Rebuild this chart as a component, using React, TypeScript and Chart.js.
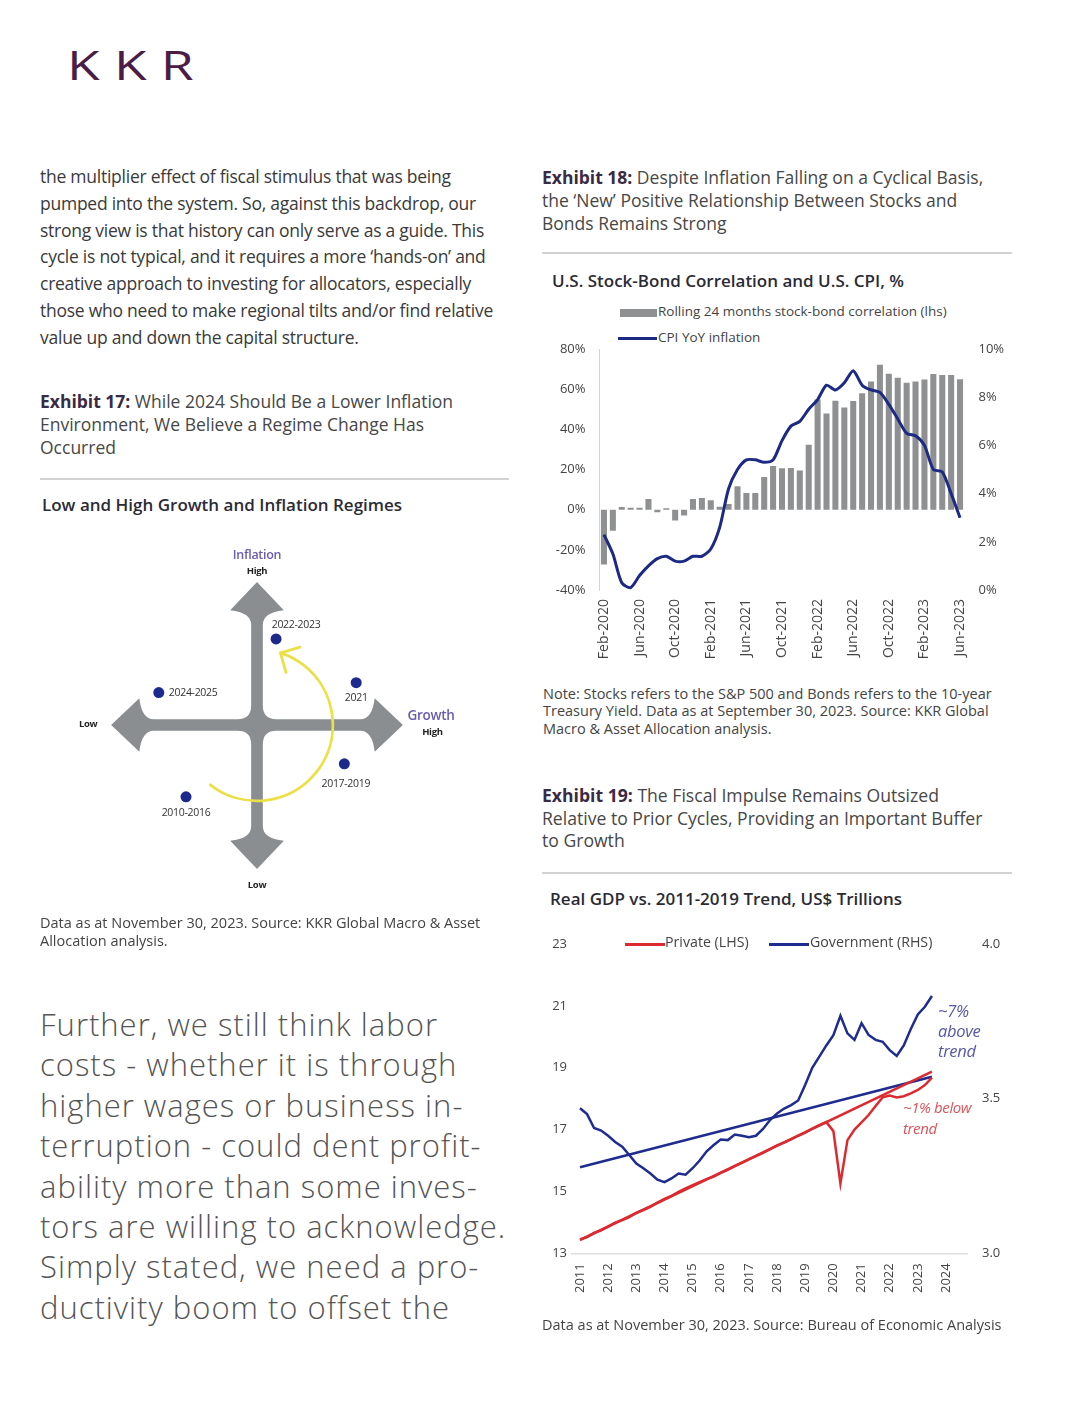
import React, { useEffect, useRef } from "react";
import { Chart, registerables } from "chart.js";

Chart.register(...registerables);

const FONT = "'Open Sans', 'DejaVu Sans', sans-serif";

// ---------- Exhibit 17: regimes ----------
const REGIMES = ["2022-2023", "2021", "2024-2025", "2017-2019", "2010-2016"];
const REGIME_GROWTH = [0.98, 5.1, -5.05, 4.49, -3.65];
const REGIME_INFLATION = [4.43, 2.18, 1.67, -2.0, -3.7];

// ---------- Exhibit 18: stock-bond correlation & CPI ----------
const MONTHS = [
  "Feb-2020", "Mar-2020", "Apr-2020", "May-2020", "Jun-2020", "Jul-2020", "Aug-2020", "Sep-2020", "Oct-2020", "Nov-2020", "Dec-2020",
  "Jan-2021", "Feb-2021", "Mar-2021", "Apr-2021", "May-2021", "Jun-2021", "Jul-2021", "Aug-2021", "Sep-2021", "Oct-2021", "Nov-2021", "Dec-2021",
  "Jan-2022", "Feb-2022", "Mar-2022", "Apr-2022", "May-2022", "Jun-2022", "Jul-2022", "Aug-2022", "Sep-2022", "Oct-2022", "Nov-2022", "Dec-2022",
  "Jan-2023", "Feb-2023", "Mar-2023", "Apr-2023", "May-2023", "Jun-2023",
];
const MONTH_TICKS = ["Feb-2020", "Jun-2020", "Oct-2020", "Feb-2021", "Jun-2021", "Oct-2021", "Feb-2022", "Jun-2022", "Oct-2022", "Feb-2023", "Jun-2023"];
const CORRELATION = [
  -27.3, -10.5, 1.3, 0.9, 0.9, 5.3, -1.3, 0.7, -5.4, -2.9, 5.3,
  5.8, 4.7, 1.5, 2.8, 11.7, 8.3, 8.3, 16.3, 21.8, 20.6, 20.7, 19.5,
  32.3, 54.8, 47.9, 54.2, 50.9, 54.1, 58.0, 63.8, 72.1, 67.7, 65.7, 63.2,
  63.8, 64.8, 67.5, 67.1, 67.0, 65.0,
];
const CPI = [
  2.3, 1.5, 0.3, 0.1, 0.6, 1.0, 1.3, 1.4, 1.2, 1.2, 1.4,
  1.4, 1.7, 2.6, 4.2, 5.0, 5.4, 5.4, 5.3, 5.4, 6.2, 6.8, 7.0,
  7.5, 7.9, 8.5, 8.3, 8.6, 9.1, 8.5, 8.3, 8.2, 7.7, 7.1, 6.5,
  6.4, 6.0, 5.0, 4.9, 4.0, 3.0,
];
const CORR_TICKS = [-40, -20, 0, 20, 40, 60, 80];
const CPI_TICKS = [0, 2, 4, 6, 8, 10];

// ---------- Exhibit 19: real GDP vs trend ----------
const QUARTERS = [
  "2011Q1", "2011Q2", "2011Q3", "2011Q4", "2012Q1", "2012Q2", "2012Q3", "2012Q4",
  "2013Q1", "2013Q2", "2013Q3", "2013Q4", "2014Q1", "2014Q2", "2014Q3", "2014Q4",
  "2015Q1", "2015Q2", "2015Q3", "2015Q4", "2016Q1", "2016Q2", "2016Q3", "2016Q4",
  "2017Q1", "2017Q2", "2017Q3", "2017Q4", "2018Q1", "2018Q2", "2018Q3", "2018Q4",
  "2019Q1", "2019Q2", "2019Q3", "2019Q4", "2020Q1", "2020Q2", "2020Q3", "2020Q4",
  "2021Q1", "2021Q2", "2021Q3", "2021Q4", "2022Q1", "2022Q2", "2022Q3", "2022Q4",
  "2023Q1", "2023Q2", "2023Q3",
];
const PRIVATE = [
  13.45, 13.52, 13.66, 13.74, 13.86, 13.99, 14.07, 14.17,
  14.31, 14.40, 14.50, 14.64, 14.76, 14.86, 14.99, 15.10,
  15.20, 15.30, 15.40, 15.48, 15.60, 15.70, 15.82, 15.92,
  16.04, 16.14, 16.25, 16.37, 16.49, 16.58, 16.68, 16.80,
  16.90, 17.03, 17.14, 17.24, 16.95, 15.26, 16.66, 17.00,
  17.23, 17.47, 17.76, 18.04, 18.10, 18.04, 18.08, 18.17,
  18.28, 18.44, 18.68,
];
const GOVERNMENT = [
  3.469, 3.450, 3.405, 3.397, 3.380, 3.360, 3.345, 3.318,
  3.290, 3.275, 3.258, 3.238, 3.230, 3.242, 3.258, 3.254,
  3.275, 3.300, 3.330, 3.350, 3.368, 3.366, 3.384, 3.380,
  3.375, 3.380, 3.402, 3.431, 3.452, 3.468, 3.479, 3.494,
  3.545, 3.600, 3.636, 3.672, 3.705, 3.768, 3.711, 3.690,
  3.744, 3.706, 3.690, 3.684, 3.657, 3.638, 3.672, 3.725,
  3.772, 3.797, 3.832,
];
const TREND_QUARTERS = ["2011Q1", "2023Q3"];
const PRIVATE_TREND = [13.43, 18.87];
const GOVERNMENT_TREND = [3.278, 3.571];
const YEAR_TICKS = [2011, 2012, 2013, 2014, 2015, 2016, 2017, 2018, 2019, 2020, 2021, 2022, 2023, 2024];
const PRIVATE_TICKS = [13, 15, 17, 19, 21, 23];
const GOVERNMENT_TICKS = [3.0, 3.5, 4.0];

// ---------- styles ----------
const GRAY_BAR = "#8e9092";
const NAVY = "#1c2a84";
const RED = "#dc2b30";
const BLUE = "#1f2c8f";
const AXIS_TEXT = "#444";

// label placement for the regime dots: [dx px, dy px, align]
const REGIME_LABEL_PLACE: [number, number, CanvasTextAlign][] = [
  [20, -14, "center"],
  [0, 15, "center"],
  [10, 0, "left"],
  [1.5, 20, "center"],
  [0, 16, "center"],
];

const quarterToYear = (q: string) => parseInt(q.slice(0, 4), 10) + (parseInt(q.slice(5), 10) - 1) / 4;

const quadrantPlugin = {
  id: "quadrant",
  beforeDatasetsDraw(chart: any) {
    const { ctx, scales } = chart;
    const x = scales.x, y = scales.y;
    const cx = x.getPixelForValue(0), cy = y.getPixelForValue(0);
    const s = x.getPixelForValue(1) - cx;
    const w = 0.3 * s, r = 0.7 * s, hw = 1.38 * s, H = 1.45 * s, D = 2.2 * s;
    const lens = [7.35, 7.5, 7.4, 7.5].map((v) => v * s);
    ctx.save();
    ctx.fillStyle = "#8b8e91";
    ctx.beginPath();
    for (let k = 0; k < 4; k++) {
      const L = lens[k];
      const P = (px: number, py: number): [number, number] => {
        let X = px, Y = py;
        for (let j = 0; j < k; j++) { const t = X; X = -Y; Y = t; }
        return [cx + X, cy + Y];
      };
      const a = P(-w, -(L - D));
      if (k === 0) ctx.moveTo(a[0], a[1]); else ctx.lineTo(a[0], a[1]);
      let c = P(-w, -(L - H - 0.12 * s)), e = P(-hw, -(L - H));
      ctx.quadraticCurveTo(c[0], c[1], e[0], e[1]);
      e = P(0, -L); ctx.lineTo(e[0], e[1]);
      e = P(hw, -(L - H)); ctx.lineTo(e[0], e[1]);
      c = P(w, -(L - H - 0.12 * s)); e = P(w, -(L - D));
      ctx.quadraticCurveTo(c[0], c[1], e[0], e[1]);
      e = P(w, -w - r); ctx.lineTo(e[0], e[1]);
      c = P(w, -w); e = P(w + r, -w);
      ctx.quadraticCurveTo(c[0], c[1], e[0], e[1]);
    }
    ctx.closePath();
    ctx.fill();

    // yellow rotation arrow
    const R = 3.9 * s;
    const a0 = (128 * Math.PI) / 180, a1 = (-72 * Math.PI) / 180;
    ctx.strokeStyle = "#ece047";
    ctx.lineWidth = 2.8;
    ctx.lineCap = "round";
    ctx.beginPath();
    ctx.arc(cx, cy, R, a0, a1, true);
    ctx.stroke();
    const tx = cx + R * Math.cos(a1), ty = cy + R * Math.sin(a1);
    const back = Math.atan2(Math.cos(a1), -Math.sin(a1));
    const bl = 1.05 * s;
    ctx.beginPath();
    ctx.moveTo(tx + bl * Math.cos(back - 0.6), ty + bl * Math.sin(back - 0.6));
    ctx.lineTo(tx, ty);
    ctx.lineTo(tx + bl * Math.cos(back + 0.98), ty + bl * Math.sin(back + 0.98));
    ctx.stroke();
    ctx.restore();
  },
  afterDatasetsDraw(chart: any) {
    const { ctx, scales } = chart;
    const x = scales.x, y = scales.y;
    ctx.save();
    ctx.textBaseline = "middle";
    (ctx as any).letterSpacing = "-0.3px";
    ctx.font = `10.5px ${FONT}`;
    ctx.fillStyle = "#333";
    REGIMES.forEach((lab, i) => {
      const [dx, dy, align] = REGIME_LABEL_PLACE[i];
      ctx.textAlign = align;
      ctx.fillText(lab, x.getPixelForValue(REGIME_GROWTH[i]) + dx, y.getPixelForValue(REGIME_INFLATION[i]) + dy);
    });
    const txt = (t: string, gx: number, gy: number, font: string, color: string) => {
      ctx.font = font;
      ctx.fillStyle = color;
      ctx.textAlign = "center";
      ctx.fillText(t, x.getPixelForValue(gx), y.getPixelForValue(gy));
    };
    (ctx as any).letterSpacing = "-0.3px";
    txt("Inflation", 0, 8.73, `600 12.5px ${FONT}`, "#6a5cae");
    txt("High", 0, 7.93, `700 9.5px ${FONT}`, "#222");
    txt("Low", 0, -8.23, `700 9.5px ${FONT}`, "#222");
    txt("Low", -8.68, 0.05, `700 9.5px ${FONT}`, "#222");
    txt("Growth", 8.95, 0.43, `600 13.5px ${FONT}`, "#6a5cae");
    txt("High", 9.02, -0.4, `700 9.5px ${FONT}`, "#222");
    ctx.restore();
  },
};

type TProps = {
  x: number; y: number; size: number; lh: number; color?: string; weight?: number;
  ls?: number; italic?: boolean; children: React.ReactNode;
};
const T = ({ x, y, size, lh, color = "#3c3c3c", weight = 400, ls = 0, italic = false, children }: TProps) => (
  <div
    style={{
      position: "absolute", left: x, top: y, fontSize: size, lineHeight: `${lh}px`, color,
      fontWeight: weight, letterSpacing: ls, fontStyle: italic ? "italic" : "normal", whiteSpace: "nowrap",
    }}
  >
    {children}
  </div>
);

const Rule = ({ x, y, w }: { x: number; y: number; w: number }) => (
  <div style={{ position: "absolute", left: x, top: y, width: w, height: 2, background: "#d2d2d2" }} />
);

const EX = "#3b2a44";
const noVPad = (s: any) => { s.paddingTop = 0; s.paddingBottom = 0; };

export default function App() {
  const quadRef = useRef<HTMLCanvasElement>(null);
  const corrRef = useRef<HTMLCanvasElement>(null);
  const gdpRef = useRef<HTMLCanvasElement>(null);

  useEffect(() => {
    document.body.style.margin = "0";
    Chart.defaults.font.family = FONT;
    Chart.defaults.color = AXIS_TEXT;

    const quad = new Chart(quadRef.current as HTMLCanvasElement, {
      type: "scatter",
      data: {
        datasets: [
          {
            label: "Regimes",
            data: REGIMES.map((_, i) => ({ x: REGIME_GROWTH[i], y: REGIME_INFLATION[i] })),
            pointRadius: 5.5,
            pointBackgroundColor: "#1b2a8c",
            pointBorderWidth: 0,
          },
        ],
      },
      options: {
        animation: false,
        responsive: false,
        layout: { padding: 0 },
        plugins: { legend: { display: false }, tooltip: { enabled: false } },
        scales: {
          x: { type: "linear", min: -10, max: 10, display: false },
          y: { type: "linear", min: -9.5, max: 9.5, display: false },
        },
      },
      plugins: [quadrantPlugin],
    });

    const corr = new Chart(corrRef.current as HTMLCanvasElement, {
      type: "bar",
      data: {
        labels: MONTHS,
        datasets: [
          {
            type: "line",
            label: "CPI YoY inflation",
            data: CPI,
            yAxisID: "y1",
            borderColor: NAVY,
            borderWidth: 3,
            pointRadius: 0,
            tension: 0.25,
            order: 1,
          } as any,
          {
            type: "bar",
            label: "Rolling 24 months stock-bond correlation (lhs)",
            data: CORRELATION,
            yAxisID: "y",
            backgroundColor: GRAY_BAR,
            barPercentage: 0.68,
            categoryPercentage: 1,
            order: 2,
          },
        ],
      },
      options: {
        animation: false,
        responsive: false,
        layout: { padding: { top: 9, left: 0, right: 0, bottom: 0 } },
        plugins: { legend: { display: false }, tooltip: { enabled: false } },
        scales: {
          x: {
            grid: { display: false, drawTicks: false },
            border: { display: false },
            ticks: {
              autoSkip: false,
              minRotation: 90,
              maxRotation: 90,
              padding: 9,
              color: AXIS_TEXT,
              font: { size: 14 },
              callback: (_v: any, i: number) => (MONTH_TICKS.includes(MONTHS[i]) ? MONTHS[i] : ""),
            },
            afterFit: (s: any) => { s.height = 85; },
          },
          y: {
            position: "left",
            min: -40,
            max: 80,
            grid: { display: false, drawTicks: false },
            border: { display: true, color: "#d4d4d4", width: 1 },
            ticks: { padding: 14, color: AXIS_TEXT, font: { size: 13 }, callback: (v: any) => `${v}%` },
            afterBuildTicks: (s: any) => { s.ticks = CORR_TICKS.map((v) => ({ value: v })); },
            afterFit: (s: any) => { s.width = 59.5; noVPad(s); },
          },
          y1: {
            position: "right",
            min: 0,
            max: 10,
            grid: { display: false, drawTicks: false },
            border: { display: false },
            ticks: { padding: 14, color: AXIS_TEXT, font: { size: 13 }, callback: (v: any) => `${v}%` },
            afterBuildTicks: (s: any) => { s.ticks = CPI_TICKS.map((v) => ({ value: v })); },
            afterFit: (s: any) => { s.width = 55.5; noVPad(s); },
          },
        },
      },
    });

    const trendPts = (vals: number[]) => TREND_QUARTERS.map((q, i) => ({ x: quarterToYear(q), y: vals[i] }));
    const seriesPts = (vals: number[]) => QUARTERS.map((q, i) => ({ x: quarterToYear(q), y: vals[i] }));

    const gdp = new Chart(gdpRef.current as HTMLCanvasElement, {
      type: "line",
      data: {
        datasets: [
          { label: "Private trend", data: trendPts(PRIVATE_TREND), yAxisID: "y", borderColor: RED, borderWidth: 2.5, pointRadius: 0 },
          { label: "Private (LHS)", data: seriesPts(PRIVATE), yAxisID: "y", borderColor: RED, borderWidth: 2.5, pointRadius: 0, tension: 0 },
          { label: "Government trend", data: trendPts(GOVERNMENT_TREND), yAxisID: "y1", borderColor: BLUE, borderWidth: 2.5, pointRadius: 0 },
          { label: "Government (RHS)", data: seriesPts(GOVERNMENT), yAxisID: "y1", borderColor: BLUE, borderWidth: 2.5, pointRadius: 0, tension: 0 },
        ],
      },
      options: {
        animation: false,
        responsive: false,
        layout: { padding: { top: 14, left: 0, right: 0, bottom: 0 } },
        plugins: { legend: { display: false }, tooltip: { enabled: false } },
        scales: {
          x: {
            type: "linear",
            min: 2010.716,
            max: 2024.746,
            grid: { display: false, drawTicks: false },
            border: { display: true, color: "#dedede", width: 1.5 },
            ticks: {
              autoSkip: false,
              minRotation: 90,
              maxRotation: 90,
              padding: 10,
              color: AXIS_TEXT,
              font: { size: 13 },
              callback: (v: any) => String(v),
            },
            afterBuildTicks: (s: any) => { s.ticks = YEAR_TICKS.map((v) => ({ value: v })); },
            afterFit: (s: any) => { s.height = 56.7; },
          },
          y: {
            position: "left",
            min: 13,
            max: 23,
            grid: { display: false, drawTicks: false },
            border: { display: false },
            ticks: { padding: 5, color: AXIS_TEXT, font: { size: 13 }, callback: (v: any) => String(v) },
            afterBuildTicks: (s: any) => { s.ticks = PRIVATE_TICKS.map((v) => ({ value: v })); },
            afterFit: (s: any) => { s.width = 32; noVPad(s); },
          },
          y1: {
            position: "right",
            min: 3,
            max: 4,
            grid: { display: false, drawTicks: false },
            border: { display: false },
            ticks: { padding: 15, color: AXIS_TEXT, font: { size: 13 }, callback: (v: any) => Number(v).toFixed(1) },
            afterBuildTicks: (s: any) => { s.ticks = GOVERNMENT_TICKS.map((v) => ({ value: v })); },
            afterFit: (s: any) => { s.width = 53; noVPad(s); },
          },
        },
      },
    });

    return () => {
      quad.destroy();
      corr.destroy();
      gdp.destroy();
    };
  }, []);

  return (
    <div
      style={{
        position: "absolute", left: 0, top: 0, width: 1080, height: 1425, background: "#fff",
        overflow: "hidden", fontFamily: FONT,
      }}
    >
      {/* logo */}
      <div
        style={{
          position: "absolute", left: 67, top: 44, fontSize: 41, lineHeight: "41px", color: "#4b1c46",
          letterSpacing: 11, transform: "scaleX(1.3)", transformOrigin: "left top", fontWeight: 400,
        }}
      >
        KKR
      </div>

      {/* left column body */}
      <T x={40} y={163} size={17.5} lh={26.8} ls={-0.25} color="#3a3a3a">
        the multiplier effect of fiscal stimulus that was being<br />
        pumped into the system. So, against this backdrop, our<br />
        strong view is that history can only serve as a guide. This<br />
        cycle is not typical, and it requires a more ‘hands-on’ and<br />
        creative approach to investing for allocators, especially<br />
        those who need to make regional tilts and/or find relative<br />
        value up and down the capital structure.
      </T>

      <T x={40} y={390} size={17.5} lh={23} ls={0} color="#474747">
        <span style={{ fontWeight: 700, color: EX }}>Exhibit 17:</span> While 2024 Should Be a Lower Inflation<br />
        Environment, We Believe a Regime Change Has<br />
        Occurred
      </T>
      <Rule x={40} y={478} w={469} />
      <T x={42} y={495} size={17} lh={20} weight={600} ls={0} color="#2b2b36">
        Low and High Growth and Inflation Regimes
      </T>

      <canvas
        ref={quadRef}
        width={400}
        height={380}
        style={{ position: "absolute", left: 57, top: 535, width: 400, height: 380 }}
      />

      <T x={40} y={914} size={14.5} lh={18.3} ls={0} color="#444">
        Data as at November 30, 2023. Source: KKR Global Macro &amp; Asset<br />
        Allocation analysis.
      </T>

      <T x={40} y={1004} size={31} lh={40.4} weight={300} ls={1} color="#555">
        Further, we still think labor<br />
        costs - whether it is through<br />
        higher wages or business in-<br />
        terruption - could dent profit-<br />
        ability more than some inves-<br />
        tors are willing to acknowledge.<br />
        Simply stated, we need a pro-<br />
        ductivity boom to offset the
      </T>

      {/* right column */}
      <T x={542} y={166} size={17.5} lh={23} ls={0} color="#474747">
        <span style={{ fontWeight: 700, color: EX }}>Exhibit 18:</span> Despite Inflation Falling on a Cyclical Basis,<br />
        the ‘New’ Positive Relationship Between Stocks and<br />
        Bonds Remains Strong
      </T>
      <Rule x={542} y={252} w={470} />
      <T x={552} y={271} size={17} lh={20} weight={600} ls={0} color="#2b2b36">
        U.S. Stock-Bond Correlation and U.S. CPI, %
      </T>

      {/* legend 1 */}
      <div style={{ position: "absolute", left: 620, top: 309, width: 37, height: 8, background: GRAY_BAR }} />
      <T x={658} y={302} size={13.5} lh={18} ls={0} color="#444">
        Rolling 24 months stock-bond correlation (lhs)
      </T>
      <div style={{ position: "absolute", left: 618, top: 337, width: 39, height: 3, background: NAVY }} />
      <T x={658} y={328} size={13.5} lh={18} ls={0} color="#444">
        CPI YoY inflation
      </T>

      <canvas
        ref={corrRef}
        width={480}
        height={335}
        style={{ position: "absolute", left: 540, top: 340, width: 480, height: 335 }}
      />

      <T x={543} y={684.5} size={14.5} lh={17.5} ls={0} color="#444">
        Note: Stocks refers to the S&amp;P 500 and Bonds refers to the 10-year<br />
        Treasury Yield. Data as at September 30, 2023. Source: KKR Global<br />
        Macro &amp; Asset Allocation analysis.
      </T>

      <T x={542} y={784} size={17.6} lh={22.7} ls={0} color="#474747">
        <span style={{ fontWeight: 700, color: EX }}>Exhibit 19:</span> The Fiscal Impulse Remains Outsized<br />
        Relative to Prior Cycles, Providing an Important Buffer<br />
        to Growth
      </T>
      <Rule x={542} y={872} w={470} />
      <T x={550} y={889} size={17} lh={20} weight={600} ls={0} color="#2b2b36">
        Real GDP vs. 2011-2019 Trend, US$ Trillions
      </T>

      {/* legend 2 */}
      <div style={{ position: "absolute", left: 625, top: 942.5, width: 40, height: 3, background: RED }} />
      <T x={665} y={933} size={14.2} lh={18} ls={0} color="#444">
        Private (LHS)
      </T>
      <div style={{ position: "absolute", left: 769, top: 942.5, width: 40, height: 3, background: BLUE }} />
      <T x={810} y={933} size={14.2} lh={18} ls={0} color="#444">
        Government (RHS)
      </T>

      <canvas
        ref={gdpRef}
        width={480}
        height={380}
        style={{ position: "absolute", left: 540, top: 930, width: 480, height: 380 }}
      />

      {/* annotations */}
      <T x={938} y={1001} size={16.5} lh={20} italic ls={-0.3} color="#5558a6">
        ~7%<br />
        above<br />
        trend
      </T>
      <T x={903} y={1097} size={15} lh={21.4} italic ls={-0.4} color="#d9555b">
        ~1% below<br />
        trend
      </T>

      <T x={542} y={1316} size={14.5} lh={18} ls={0} color="#444">
        Data as at November 30, 2023. Source: Bureau of Economic Analysis
      </T>
    </div>
  );
}
